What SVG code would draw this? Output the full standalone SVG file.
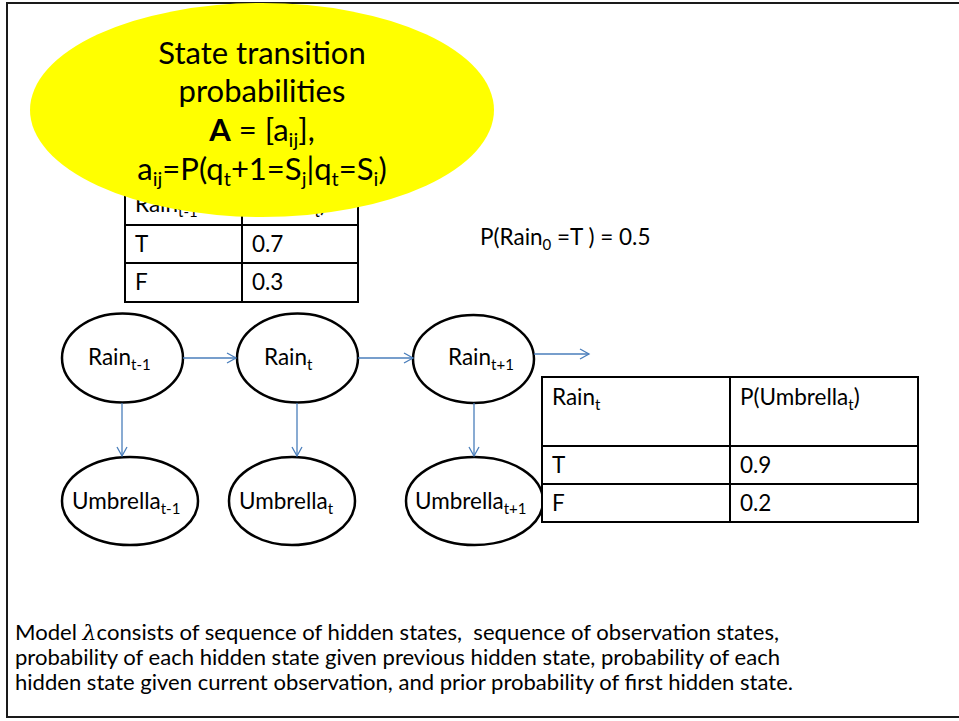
<svg xmlns="http://www.w3.org/2000/svg" width="959" height="721" viewBox="0 0 959 721">
<defs>
<style>
text{font-family:Lato,"Open Sans","Liberation Sans",sans-serif;fill:#000}
.n{font-size:22.5px}
.t{font-size:22.5px}
.s{font-size:15px}
.big{font-size:31px}
.bt{font-size:21px}
.node{fill:#fff;stroke:#000;stroke-width:2.5}
.cell{fill:#fff;stroke:#000;stroke-width:2}
.conn{fill:none;stroke:#4A7EBB;stroke-width:1.3}
</style>
<marker id="ah" markerUnits="userSpaceOnUse" markerWidth="12" markerHeight="12" refX="10" refY="6" orient="auto">
<path d="M1,1 L10,6 L1,11" fill="none" stroke="#4A7EBB" stroke-width="1.3"/>
</marker>
</defs>
<rect x="0" y="0" width="959" height="721" fill="#fff"/>
<rect id="frame" x="7" y="3" width="956" height="714" fill="none" stroke="#1a1a1a" stroke-width="2"/>

<g id="table-transition">
<rect class="cell" x="125" y="185" width="117" height="40"/>
<rect class="cell" x="242" y="185" width="116" height="40"/>
<rect class="cell" x="125" y="225" width="117" height="38"/>
<rect class="cell" x="242" y="225" width="116" height="38"/>
<rect class="cell" x="125" y="263" width="117" height="39"/>
<rect class="cell" x="242" y="263" width="116" height="39"/>
<text class="t" x="135" y="212">Rain<tspan class="s" dy="5">t-1</tspan></text>
<text class="t" x="252" y="212">P(Rain<tspan class="s" dy="5">t</tspan><tspan dy="-5">)</tspan></text>
<text class="t" x="135" y="252">T</text>
<text class="t" x="252" y="252">0.7</text>
<text class="t" x="135" y="290">F</text>
<text class="t" x="252" y="290">0.3</text>
</g>

<g id="callout">
<ellipse cx="262" cy="110" rx="232" ry="107" fill="#FFFF00"/>
<text class="big" x="262" y="64" text-anchor="middle">State transition</text>
<text class="big" x="262" y="102" text-anchor="middle">probabilities</text>
<text class="big" x="262" y="141" text-anchor="middle"><tspan font-weight="bold">A</tspan> = [a<tspan font-size="20" dy="6">ij</tspan><tspan dy="-6">],</tspan></text>
<text class="big" x="262" y="180" text-anchor="middle">a<tspan font-size="20" dy="6">ij</tspan><tspan dy="-6">=P(q</tspan><tspan font-size="20" dy="6">t</tspan><tspan dy="-6">+1=S</tspan><tspan font-size="20" dy="6">j</tspan><tspan dy="-6">|q</tspan><tspan font-size="20" dy="6">t</tspan><tspan dy="-6">=S</tspan><tspan font-size="20" dy="6">i</tspan><tspan dy="-6">)</tspan></text>
</g>

<g id="prior">
<text class="t" x="480" y="245">P(Rain<tspan class="s" dy="5">0</tspan><tspan dy="-5"> =T ) = 0.5</tspan></text>
</g>

<g id="rain-t-1">
<ellipse class="node" cx="122.5" cy="358" rx="60.5" ry="44.5"/>
<text class="n" x="88" y="365">Rain<tspan class="s" dy="5">t-1</tspan></text>
</g>
<g id="rain-t">
<ellipse class="node" cx="297.5" cy="358" rx="60.5" ry="44.5"/>
<text class="n" x="264" y="365">Rain<tspan class="s" dy="5">t</tspan></text>
</g>
<g id="rain-t+1">
<ellipse class="node" cx="473.5" cy="359" rx="60.5" ry="44"/>
<text class="n" x="448" y="365">Rain<tspan class="s" dy="5">t+1</tspan></text>
</g>
<g id="umbrella-t-1">
<ellipse class="node" cx="130" cy="501" rx="68" ry="44"/>
<text class="n" x="72" y="509">Umbrella<tspan class="s" dy="5">t-1</tspan></text>
</g>
<g id="umbrella-t">
<ellipse class="node" cx="292" cy="501" rx="63" ry="44"/>
<text class="n" x="239" y="509">Umbrella<tspan class="s" dy="5">t</tspan></text>
</g>
<g id="umbrella-t+1">
<ellipse class="node" cx="474.5" cy="501" rx="68.5" ry="44"/>
<text class="n" x="415" y="509">Umbrella<tspan class="s" dy="5">t+1</tspan></text>
</g>

<g id="table-emission">
<rect class="cell" x="542" y="377" width="188" height="69"/>
<rect class="cell" x="730" y="377" width="188" height="69"/>
<rect class="cell" x="542" y="446" width="188" height="38"/>
<rect class="cell" x="730" y="446" width="188" height="38"/>
<rect class="cell" x="542" y="484" width="188" height="38"/>
<rect class="cell" x="730" y="484" width="188" height="38"/>
<text class="t" x="552" y="405">Rain<tspan class="s" dy="5">t</tspan></text>
<text class="t" x="740" y="405">P(Umbrella<tspan class="s" dy="5">t</tspan><tspan dy="-5">)</tspan></text>
<text class="t" x="552" y="473">T</text>
<text class="t" x="740" y="473">0.9</text>
<text class="t" x="552" y="511">F</text>
<text class="t" x="740" y="511">0.2</text>
</g>

<g id="connectors">
<path class="conn" d="M183,358 L236,358" marker-end="url(#ah)"/>
<path class="conn" d="M358,358 L413,358" marker-end="url(#ah)"/>
<path class="conn" d="M534,354 L589,354" marker-end="url(#ah)"/>
<path class="conn" d="M122,403 L122,456" marker-end="url(#ah)"/>
<path class="conn" d="M297,403 L297,456" marker-end="url(#ah)"/>
<path class="conn" d="M474,403 L474,456" marker-end="url(#ah)"/>
</g>

<g id="caption">
<text class="bt" x="15" y="640" xml:space="preserve" textLength="764" lengthAdjust="spacingAndGlyphs">Model <tspan font-family="'DejaVu Serif',serif" font-style="italic">λ</tspan>consists of sequence of hidden states,  sequence of observation states,</text>
<text class="bt" x="15" y="665" textLength="765" lengthAdjust="spacingAndGlyphs">probability of each hidden state given previous hidden state, probability of each</text>
<text class="bt" x="15" y="690" textLength="778" lengthAdjust="spacingAndGlyphs">hidden state given current observation, and prior probability of first hidden state.</text>
</g>
</svg>
